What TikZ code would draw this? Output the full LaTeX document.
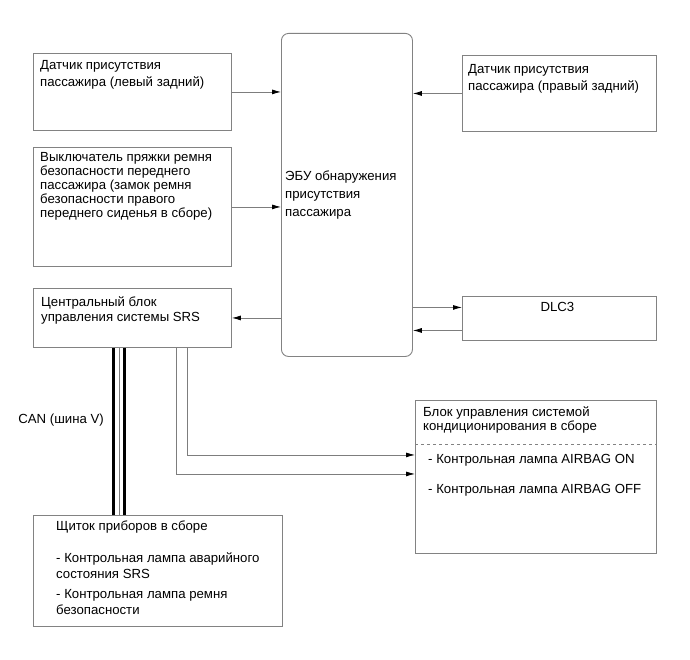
\documentclass[tikz,border=0pt]{standalone}
\usepackage{fontspec}
\setmainfont{Liberation Sans}
\usetikzlibrary{arrows.meta, positioning, calc}
\definecolor{framegray}{RGB}{130,130,130}
\definecolor{wiregray}{RGB}{125,125,125}
\tikzstyle{block} = [rectangle, draw=framegray, line width=0.9pt, inner sep=0pt, anchor=north west]
\tikzstyle{ecubox} = [block, rounded corners=7pt]
\tikzstyle{boxtext} = [anchor=north west, inner sep=0pt, align=left, font=\fontsize{13.2}{14}\selectfont]
\tikzstyle{arrow} = [draw=wiregray, line width=0.8pt, -{Latex[length=9pt,width=5pt,black]}]
\tikzstyle{can} = [line width=3.3pt, black]
\tikzstyle{canmid} = [line width=0.9pt, wiregray]

\begin{document}
\begin{tikzpicture}[x=1pt, y=-1pt]
  \useasboundingbox (0,0) rectangle (690,660);

  % boxes
  \node[block, minimum width=198pt, minimum height=77pt] (lrear) at (33,53) {};
  \node[ecubox, minimum width=131pt, minimum height=323pt] (ecu) at (281,33) {};
  \node[block, minimum width=194pt, minimum height=76pt] (rrear) at (462,55) {};
  \node[block, minimum width=198pt, minimum height=119pt] (buckle) at (33,147) {};
  \node[block, minimum width=198pt, minimum height=59pt] (srs) at (33,288) {};
  \node[block, minimum width=194pt, minimum height=44pt] (dlc) at (462,296) {};
  \node[block, minimum width=241pt, minimum height=153pt] (ac) at (415,400) {};
  \node[block, minimum width=249pt, minimum height=111pt] (dash) at (33,515) {};

  % texts
  \node[boxtext, font=\fontsize{13.2}{17}\selectfont] (lreartext) at ([shift={(7,7)}]lrear.north west)
    {Датчик присутствия\\пассажира (левый задний)};
  \node[boxtext, font=\fontsize{13.2}{17}\selectfont] (rreartext) at ([shift={(6,9)}]rrear.north west)
    {Датчик присутствия\\пассажира (правый задний)};
  \node[boxtext] (buckletext) at ([shift={(7,5)}]buckle.north west)
    {Выключатель пряжки ремня\\безопасности переднего\\пассажира (замок ремня\\безопасности правого\\переднего сиденья в сборе)};
  \node[boxtext, font=\fontsize{13.2}{18}\selectfont] (ecutext) at ([shift={(4,138)}]ecu.north west)
    {ЭБУ обнаружения\\присутствия\\пассажира};
  \node[boxtext, font=\fontsize{13.2}{15}\selectfont] (srstext) at ([shift={(8,9)}]srs.north west)
    {Центральный блок\\управления системы SRS};
  \node[boxtext, anchor=north] (dlctext) at ([shift={(-2,6)}]dlc.north) {DLC3};
  \node[boxtext] (actext) at ([shift={(8,7)}]ac.north west)
    {Блок управления системой\\кондиционирования в сборе};
  \node[boxtext] (acon) at ([shift={(13,54)}]ac.north west)
    {- Контрольная лампа AIRBAG ON};
  \node[boxtext] (acoff) at ([shift={(13,84)}]ac.north west)
    {- Контрольная лампа AIRBAG OFF};
  \node[boxtext, font=\fontsize{13.2}{16}\selectfont] (dashtext) at ([shift={(23,6)}]dash.north west)
    {Щиток приборов в сборе\\[16pt]- Контрольная лампа аварийного\\состояния SRS\\[4pt]- Контрольная лампа ремня\\безопасности};
  \node[boxtext, anchor=east] (canlabel) at (104,420) {CAN (шина V)};

  % divider
  \draw[dashed, framegray, line width=0.7pt] ([shift={(0,44)}]ac.north west) -- ([shift={(0,44)}]ac.north east);

  % connectors
  \coordinate (dlcin) at ([shift={(0,-11)}]dlc.west);
  \coordinate (dlcout) at ([shift={(0,12)}]dlc.west);
  \coordinate (acin1) at ([shift={(0,-22)}]ac.west);
  \coordinate (acin2) at ([shift={(0,-3)}]ac.west);
  \draw[arrow] (lrear.east) -- (lrear.east -| ecu.west);
  \draw[arrow] (rrear.west) -- (rrear.west -| ecu.east);
  \draw[arrow] (buckle.east) -- (buckle.east -| ecu.west);
  \draw[arrow] (ecu.west |- srs.east) -- (srs.east);
  \draw[arrow] (ecu.east |- dlcin) -- (dlcin);
  \draw[arrow] (dlcout) -- (ecu.east |- dlcout);
  \draw[arrow] ([shift={(55,0)}]srs.south) |- (acin1);
  \draw[arrow] ([shift={(44,0)}]srs.south) |- (acin2);

  % CAN bus
  \foreach \dx in {-19,-8}
    \draw[can] (srs.south) ++(\dx,0) coordinate (cantop) -- (cantop |- dash.north);
  \draw[canmid] (srs.south) ++(-13.5,0) coordinate (canmidtop) -- (canmidtop |- dash.north);
\end{tikzpicture}
\end{document}
